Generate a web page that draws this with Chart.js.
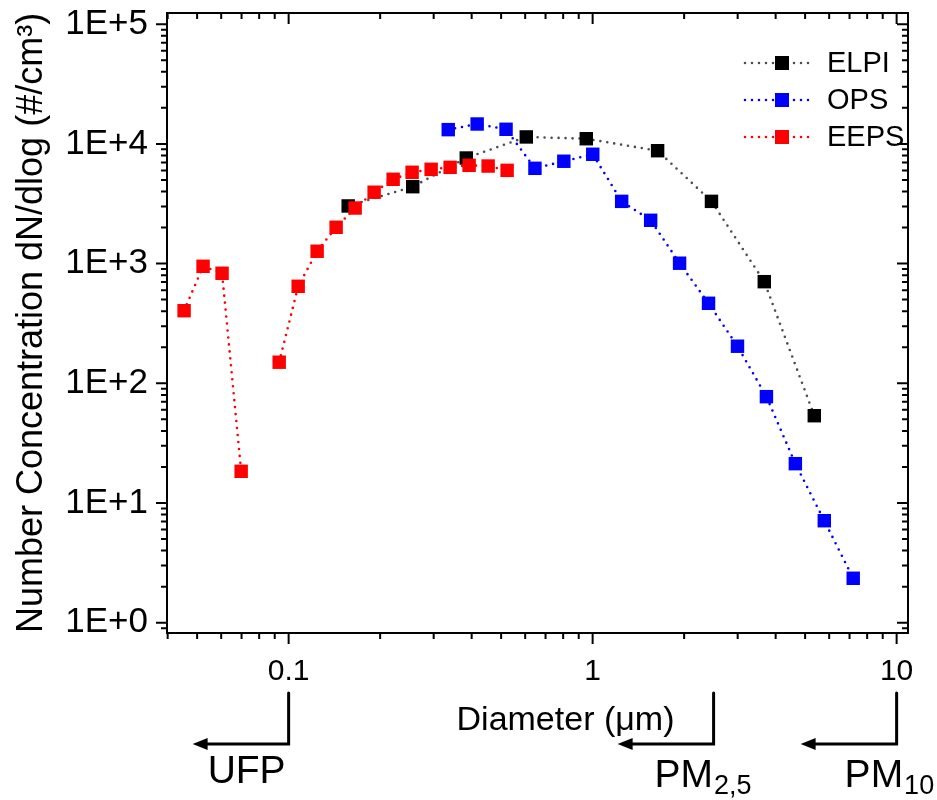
<!DOCTYPE html>
<html>
<head>
<meta charset="utf-8">
<script src="https://cdn.jsdelivr.net/npm/chart.js@4.4.1/dist/chart.umd.min.js"></script>
<style>
  body { margin: 0; background: #fff; }
</style>
</head>
<body>
<canvas id="grafico" width="937" height="800"></canvas>
<script>
// diameters in um, concentrations in #/cm3
const elpiDiameter = [0.157, 0.256, 0.384, 0.605, 0.953, 1.636, 2.46, 3.67, 5.36];
const elpiConc = [3030, 4390, 7620, 11430, 11040, 8770, 3310, 706, 53.6];

const opsDiameter = [0.335, 0.417, 0.519, 0.646, 0.804, 1.001, 1.246, 1.552, 1.932, 2.406, 2.996, 3.730, 4.644, 5.782, 7.198];
const opsConc = [13150, 14660, 13240, 6250, 7160, 8190, 3310, 2300, 1007, 466, 204, 77.3, 21.3, 7.11, 2.35];

const eepsDiameter = [0.0453, 0.0523, 0.0604, 0.0698, 0.0931, 0.1075, 0.1241, 0.1433, 0.1655, 0.1911, 0.2207, 0.2548, 0.2943, 0.3398, 0.3924, 0.4532, 0.5233];
const eepsConc = [404, 949, 830, 18.4, 150, 646, 1268, 2010, 2912, 3945, 5060, 5790, 6130, 6370, 6620, 6530, 6010];
const eepsGapAfter = 3; // missing channel, no line between these points

const seriesNames = ['ELPI', 'OPS', 'EEPS'];

const xTickValues = [0.1, 1, 10];
const xTickLabels = ['0.1', '1', '10'];
const yTickValues = [1, 10, 100, 1000, 10000, 100000];
const yTickLabels = ['1E+0', '1E+1', '1E+2', '1E+3', '1E+4', '1E+5'];

const sizeLimits = [0.1, 2.5, 10];
const sizeLimitNames = [['UFP', ''], ['PM', '2,5'], ['PM', '10']];

Chart.defaults.font.family = "'Liberation Sans', Arial, sans-serif";
Chart.defaults.color = '#000';

function puntos(xs, ys) {
  return xs.map((x, i) => ({ x: x, y: ys[i] }));
}

function serie(label, xs, ys, lineColor, markColor, order) {
  return {
    label: label,
    data: puntos(xs, ys),
    borderColor: lineColor,
    backgroundColor: markColor,
    pointBackgroundColor: markColor,
    pointBorderWidth: 0,
    pointStyle: 'rect',
    pointRadius: 9.5,
    borderWidth: 2.6,
    borderDash: [0, 7],
    borderCapStyle: 'round',
    order: order
  };
}

const datasets = [
  serie('ELPI', elpiDiameter, elpiConc, '#4d4d4d', '#000000', 3),
  serie('OPS', opsDiameter, opsConc, '#0000ff', '#0000ff', 2),
  serie('EEPS', eepsDiameter, eepsConc, '#ff0000', '#ff0000', 1)
];
datasets[2].segment = {
  borderColor: c => c.p0DataIndex === eepsGapAfter ? 'rgba(0,0,0,0)' : undefined
};

function logMarks(min, max) {
  const marks = [];
  for (let e = -3; e <= 6; e++) {
    for (let m = 1; m <= 9; m++) {
      const v = m * Math.pow(10, e);
      if (v >= min && v <= max) marks.push({ v: v, major: m === 1 });
    }
  }
  return marks;
}

function sinPadding(s) {
  s.paddingTop = 0;
  s.paddingBottom = 0;
  s.paddingLeft = 0;
  s.paddingRight = 0;
}

const marcoYTicks = {
  id: 'marcoYTicks',
  afterDatasetsDraw(chart) {
    const ctx = chart.ctx;
    const a = chart.chartArea;
    const sx = chart.scales.x, sy = chart.scales.y;
    ctx.save();
    ctx.strokeStyle = '#000';
    ctx.lineWidth = 2;
    ctx.strokeRect(a.left, a.top, a.right - a.left, a.bottom - a.top);
    ctx.beginPath();
    logMarks(sx.min, sx.max).forEach(t => {
      const px = sx.getPixelForValue(t.v);
      const len = t.major ? 11 : 6;
      ctx.moveTo(px, a.bottom); ctx.lineTo(px, a.bottom + len);
      ctx.moveTo(px, a.top); ctx.lineTo(px, a.top + len);
    });
    logMarks(sy.min, sy.max).forEach(t => {
      const py = sy.getPixelForValue(t.v);
      const len = t.major ? 11 : 6;
      ctx.moveTo(a.left, py); ctx.lineTo(a.left - len, py);
      ctx.moveTo(a.right, py); ctx.lineTo(a.right - len, py);
    });
    ctx.stroke();
    ctx.restore();
  },
  afterDraw(chart) {
    const ctx = chart.ctx;
    const a = chart.chartArea;
    const sx = chart.scales.x;
    ctx.save();

    // leyenda
    ctx.font = "29px 'Liberation Sans', Arial, sans-serif";
    ctx.textBaseline = 'middle';
    ctx.textAlign = 'left';
    seriesNames.forEach((name, i) => {
      const ds = chart.data.datasets[i];
      const y = a.top + 50 + i * 37;
      const x0 = a.right - 163;
      ctx.strokeStyle = ds.borderColor;
      ctx.lineWidth = 2.6;
      ctx.lineCap = 'round';
      ctx.setLineDash([0, 7]);
      ctx.beginPath();
      ctx.moveTo(x0, y); ctx.lineTo(x0 + 70, y);
      ctx.stroke();
      ctx.setLineDash([]);
      ctx.fillStyle = ds.pointBackgroundColor;
      ctx.fillRect(x0 + 30, y - 7, 14, 14);
      ctx.fillStyle = '#000';
      ctx.fillText(name, x0 + 82, y + 1);
    });

    // titulo eje x
    ctx.textAlign = 'center';
    ctx.textBaseline = 'alphabetic';
    ctx.font = "34px 'Liberation Sans', Arial, sans-serif";
    ctx.fillText('Diameter (\u03bcm)', (a.left + a.right) / 2 + 28, a.bottom + 97);

    // flechas UFP / PM2,5 / PM10
    ctx.textAlign = 'left';
    ctx.strokeStyle = '#000';
    ctx.fillStyle = '#000';
    ctx.lineWidth = 3;
    sizeLimits.forEach((lim, i) => {
      const px = sx.getPixelForValue(lim);
      const yTop = a.bottom + 60, yArr = a.bottom + 111;
      const tip = px - 96;
      ctx.beginPath();
      ctx.moveTo(px, yTop); ctx.lineTo(px, yArr); ctx.lineTo(tip + 10, yArr);
      ctx.stroke();
      ctx.beginPath();
      ctx.moveTo(tip, yArr); ctx.lineTo(tip + 15, yArr - 6); ctx.lineTo(tip + 15, yArr + 6);
      ctx.closePath();
      ctx.fill();
      const [main, sub] = sizeLimitNames[i];
      const tx = i === 0 ? px - 81 : (i === 1 ? px - 59 : px - 52);
      const base = i === 0 ? a.bottom + 150 : a.bottom + 154;
      ctx.font = "39px 'Liberation Sans', Arial, sans-serif";
      ctx.fillText(main, tx, base);
      const w = ctx.measureText(main).width;
      ctx.font = "27px 'Liberation Sans', Arial, sans-serif";
      ctx.fillText(sub, tx + w + 1, base + 7);
    });
    ctx.restore();
  }
};

new Chart(document.getElementById('grafico').getContext('2d'), {
  type: 'scatter',
  data: { datasets: datasets },
  plugins: [marcoYTicks],
  options: {
    responsive: false,
    animation: false,
    showLine: true,
    layout: { padding: { top: 13, right: 29, bottom: 0, left: 0 } },
    plugins: {
      legend: { display: false },
      tooltip: { enabled: false }
    },
    scales: {
      x: {
        type: 'logarithmic',
        min: 0.0398,
        max: 10.9,
        grid: { display: false, drawTicks: false },
        border: { display: false },
        afterFit: s => { s.height = 167; sinPadding(s); },
        afterBuildTicks: s => { s.ticks = xTickValues.map(v => ({ value: v })); },
        ticks: {
          autoSkip: false,
          maxRotation: 0,
          padding: 21,
          font: { size: 30 },
          callback: (v, i) => xTickLabels[i]
        }
      },
      y: {
        type: 'logarithmic',
        min: 0.82,
        max: 124000,
        grid: { display: false, drawTicks: false },
        border: { display: false },
        afterFit: s => { s.width = 167; sinPadding(s); },
        afterBuildTicks: s => { s.ticks = yTickValues.map(v => ({ value: v })); },
        ticks: {
          autoSkip: false,
          padding: 19,
          font: { size: 35 },
          callback: (v, i) => yTickLabels[i]
        },
        title: {
          display: true,
          text: 'Number Concentration dN/dlog (#/cm\u00b3)',
          font: { size: 36 },
          padding: { top: 10, bottom: 0 }
        }
      }
    }
  }
});
</script>
</body>
</html>
